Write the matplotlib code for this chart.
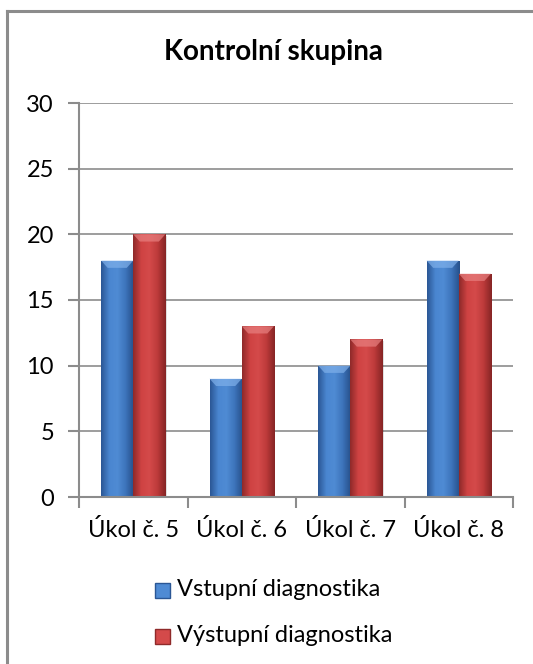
import numpy as np
import matplotlib.pyplot as plt
from matplotlib.patches import Rectangle, Polygon
from matplotlib.lines import Line2D
from matplotlib.colors import LinearSegmentedColormap

categories = ["Úkol č. 5", "Úkol č. 6", "Úkol č. 7", "Úkol č. 8"]
vstupni = [18, 9, 10, 18]
vystupni = [20, 13, 12, 17]
series_names = ["Vstupní diagnostika", "Výstupní diagnostika"]
title = "Kontrolní skupina"

plt.rcParams['font.family'] = ['Lato', 'DejaVu Sans']

W, H = 533, 664
fig = plt.figure(figsize=(W / 100, H / 100), dpi=100)

# outer frame, cropped at right and bottom
fig.lines.append(Line2D([7 / W, 7 / W], [-0.1, 1 - 11 / H], transform=fig.transFigure,
                        color="#8c8c8c", linewidth=2.2))
fig.lines.append(Line2D([7 / W, 1.1], [1 - 11 / H, 1 - 11 / H], transform=fig.transFigure,
                        color="#8c8c8c", linewidth=2.2))

ax = fig.add_axes([79 / W, 1 - 497 / H, (513 - 79) / W, (497 - 103) / H])

blue_cmap = LinearSegmentedColormap.from_list(
    "b", ["#2b5795", "#4a86d0", "#4f8bd4", "#3d74bb", "#27508a"])
red_cmap = LinearSegmentedColormap.from_list(
    "r", ["#8f2a2a", "#cf4343", "#d44a4a", "#bd3a3a", "#862525"])
bevel = {"b": "#7fb0ea", "r": "#e88080"}

w = 0.296
grad = np.linspace(0, 1, 64).reshape(1, -1)


def draw_bar(x0, h, cmap, top):
    rect = Rectangle((x0, 0), w, h, facecolor="none", edgecolor="none")
    ax.add_patch(rect)
    # soft shadow
    ax.add_patch(Rectangle((x0 + 0.012, -0.1), w, h, facecolor="#000000", alpha=0.12,
                           edgecolor="none", zorder=1.5))
    im = ax.imshow(grad, cmap=cmap, aspect="auto", extent=(x0, x0 + w, 0, h),
                   zorder=2, interpolation="bilinear")
    im.set_clip_path(rect)
    bh = 0.55
    dx = 0.06
    ax.add_patch(Polygon([(x0, h), (x0 + w, h), (x0 + w - dx, h - bh), (x0 + dx, h - bh)],
                         closed=True, facecolor=top, edgecolor="none", alpha=0.7, zorder=3))


x = np.arange(len(categories))
for i in range(len(categories)):
    draw_bar(x[i] - w, vstupni[i], blue_cmap, bevel["b"])
    draw_bar(x[i], vystupni[i], red_cmap, bevel["r"])

ax.set_xlim(-0.5, len(categories) - 0.5)
ax.set_ylim(0, 30)
ax.set_yticks(range(0, 31, 5))
ax.set_xticks(np.arange(-0.5, len(categories), 1.0))
ax.set_xticklabels([])
ax.set_xticks(x, minor=True)
ax.set_xticklabels(categories, minor=True)
ax.tick_params(axis="x", which="minor", length=0, pad=16, labelsize=17)
ax.tick_params(axis="x", which="major", length=8, color="#8c8c8c", width=1.5)
ax.tick_params(axis="y", length=8, color="#8c8c8c", width=1.5, labelsize=17, pad=10)
ax.yaxis.grid(True, color="#8c8c8c", linewidth=1.2)
ax.set_axisbelow(True)
for s in ["top", "right"]:
    ax.spines[s].set_visible(False)
for s in ["left", "bottom"]:
    ax.spines[s].set_color("#8c8c8c")
    ax.spines[s].set_linewidth(1.5)

fig.text(273 / W, 1 - 52 / H, title, ha="center", va="center", fontsize=20, fontweight="bold")

# legend
leg_y = [590, 636]
sq = 15
for name, cmap, yy in zip(series_names, [blue_cmap, red_cmap], leg_y):
    fig.patches.append(Rectangle((155 / W, 1 - (yy + sq / 2) / H), sq / W, sq / H,
                                 transform=fig.transFigure, facecolor=cmap(0.5),
                                 edgecolor=cmap(0.0), linewidth=1))
    fig.text(177 / W, 1 - yy / H, name, ha="left", va="center", fontsize=17)

fig.savefig("out.png", dpi=100)
